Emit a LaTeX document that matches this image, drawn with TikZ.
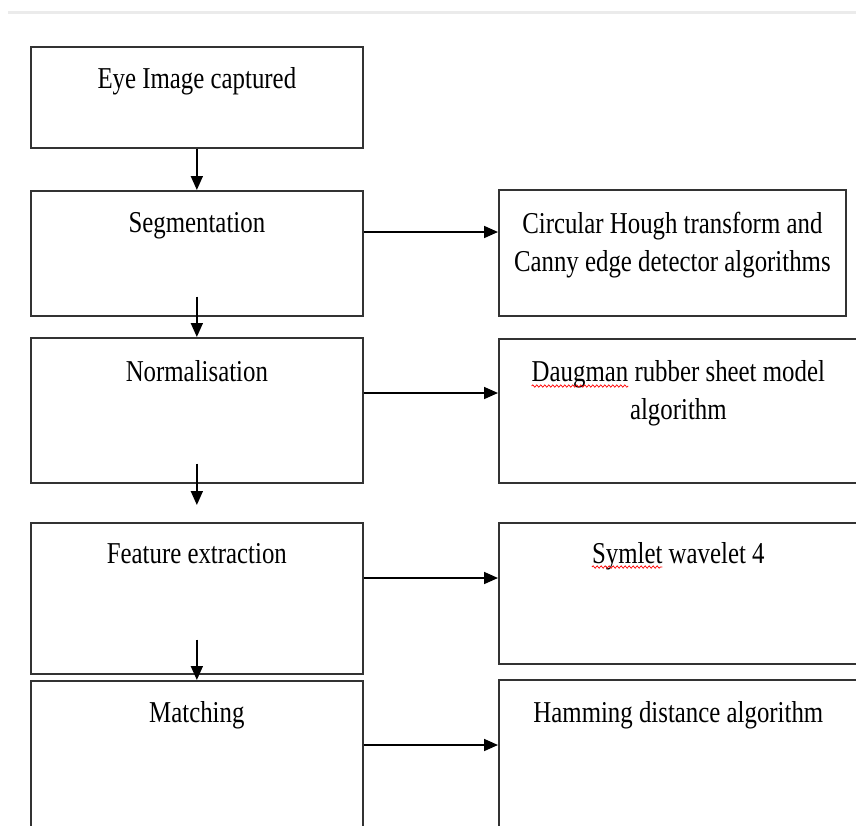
\documentclass[tikz,border=0pt]{standalone}
\usepackage{fontspec}
\setmainfont{Liberation Serif}[FakeStretch=0.82]
\usetikzlibrary{
  positioning,
  arrows.meta,
  decorations.pathmorphing
}

\newcommand{\boxfont}{\fontsize{30.3}{38}\selectfont}
\newlength{\daugwd}
\newlength{\symwd}

\begin{document}
\settowidth{\daugwd}{\boxfont Daugman}
\settowidth{\symwd}{\boxfont Symlet}
\begin{tikzpicture}[x=1pt, y=-1pt,
    box/.style={draw=black!80, line width=1.7pt, inner sep=0pt, anchor=north west},
    lbl/.style={font=\boxfont, align=center, inner sep=0pt, anchor=base},
    flow/.style={-{Triangle[length=14pt, width=12pt]}, line width=1.7pt},
    spell/.style={red, line width=0.7pt, decorate,
        decoration={snake, amplitude=1.2pt, segment length=4pt}}]
    \useasboundingbox (0,0) rectangle (856,825);
    \draw[line width=3pt, black!8] (8,12) -- (856,12);

    % left column
    \node[box, minimum width=332pt, minimum height=101pt] (eye) at (30,46) {};
    \node[box, minimum width=332pt, minimum height=125pt] (seg) at (30,190) {};
    \node[box, minimum width=332pt, minimum height=145pt] (norm) at (30,337) {};
    \node[box, minimum width=332pt, minimum height=151pt] (feat) at (30,522) {};
    \node[box, minimum width=332pt, minimum height=220pt] (match) at (30,680) {};

    \node[lbl] (eyetxt) at ([yshift=-42pt]eye.north) {Eye Image captured};
    \node[lbl] (segtxt) at ([yshift=-42pt]seg.north) {Segmentation};
    \node[lbl] (normtxt) at ([yshift=-44pt]norm.north) {Normalisation};
    \node[lbl] (feattxt) at ([yshift=-41pt]feat.north) {Feature extraction};
    \node[lbl] (matchtxt) at ([yshift=-42pt]match.north) {Matching};

    % right column
    \node[box, minimum width=347pt, minimum height=126pt] (hough) at (498,189) {};
    \node[box, minimum width=359pt, minimum height=144pt] (daug) at (498,338) {};
    \node[box, minimum width=359pt, minimum height=141pt] (sym) at (498,522) {};
    \node[box, minimum width=359pt, minimum height=220pt] (ham) at (498,679) {};

    % two-line labels sit on their last line
    \node[lbl] (houghtxt) at ([yshift=-82pt]hough.north) {Circular Hough transform and\\Canny edge detector algorithms};
    \node[lbl] (daugtxt) at ([yshift=-81pt]daug.north) {Daugman rubber sheet model\\algorithm};
    \node[lbl] (symtxt) at ([yshift=-41pt]sym.north) {Symlet wavelet 4};
    \node[lbl] (hamtxt) at ([yshift=-43pt]ham.north) {Hamming distance algorithm};

    % spelling marks
    \coordinate (dl) at ([yshift=-48pt]daug.north);
    \coordinate (sl) at ([yshift=-45pt]sym.north);
    \draw[spell] (dl -| daugtxt.west) -- ++(\daugwd,0);
    \draw[spell] (sl -| symtxt.west) -- ++(\symwd,0);

    % downward flow
    \draw[flow] (eye) -- (seg);
    \draw[flow] ([yshift=20pt]seg.south) -- (norm.north);
    \draw[flow] ([yshift=20pt]norm.south) -- ([yshift=17pt]feat.north);
    \draw[flow] ([yshift=35pt]feat.south) -- (match.north);

    % to the methods
    \coordinate (s1) at ([yshift=-42pt]seg.north east);
    \coordinate (s2) at ([yshift=-56pt]norm.north east);
    \coordinate (s3) at ([yshift=-56pt]feat.north east);
    \coordinate (s4) at ([yshift=-65pt]match.north east);
    \draw[flow] (s1) -- (s1 -| hough.west);
    \draw[flow] (s2) -- (s2 -| daug.west);
    \draw[flow] (s3) -- (s3 -| sym.west);
    \draw[flow] (s4) -- (s4 -| ham.west);
\end{tikzpicture}
\end{document}
